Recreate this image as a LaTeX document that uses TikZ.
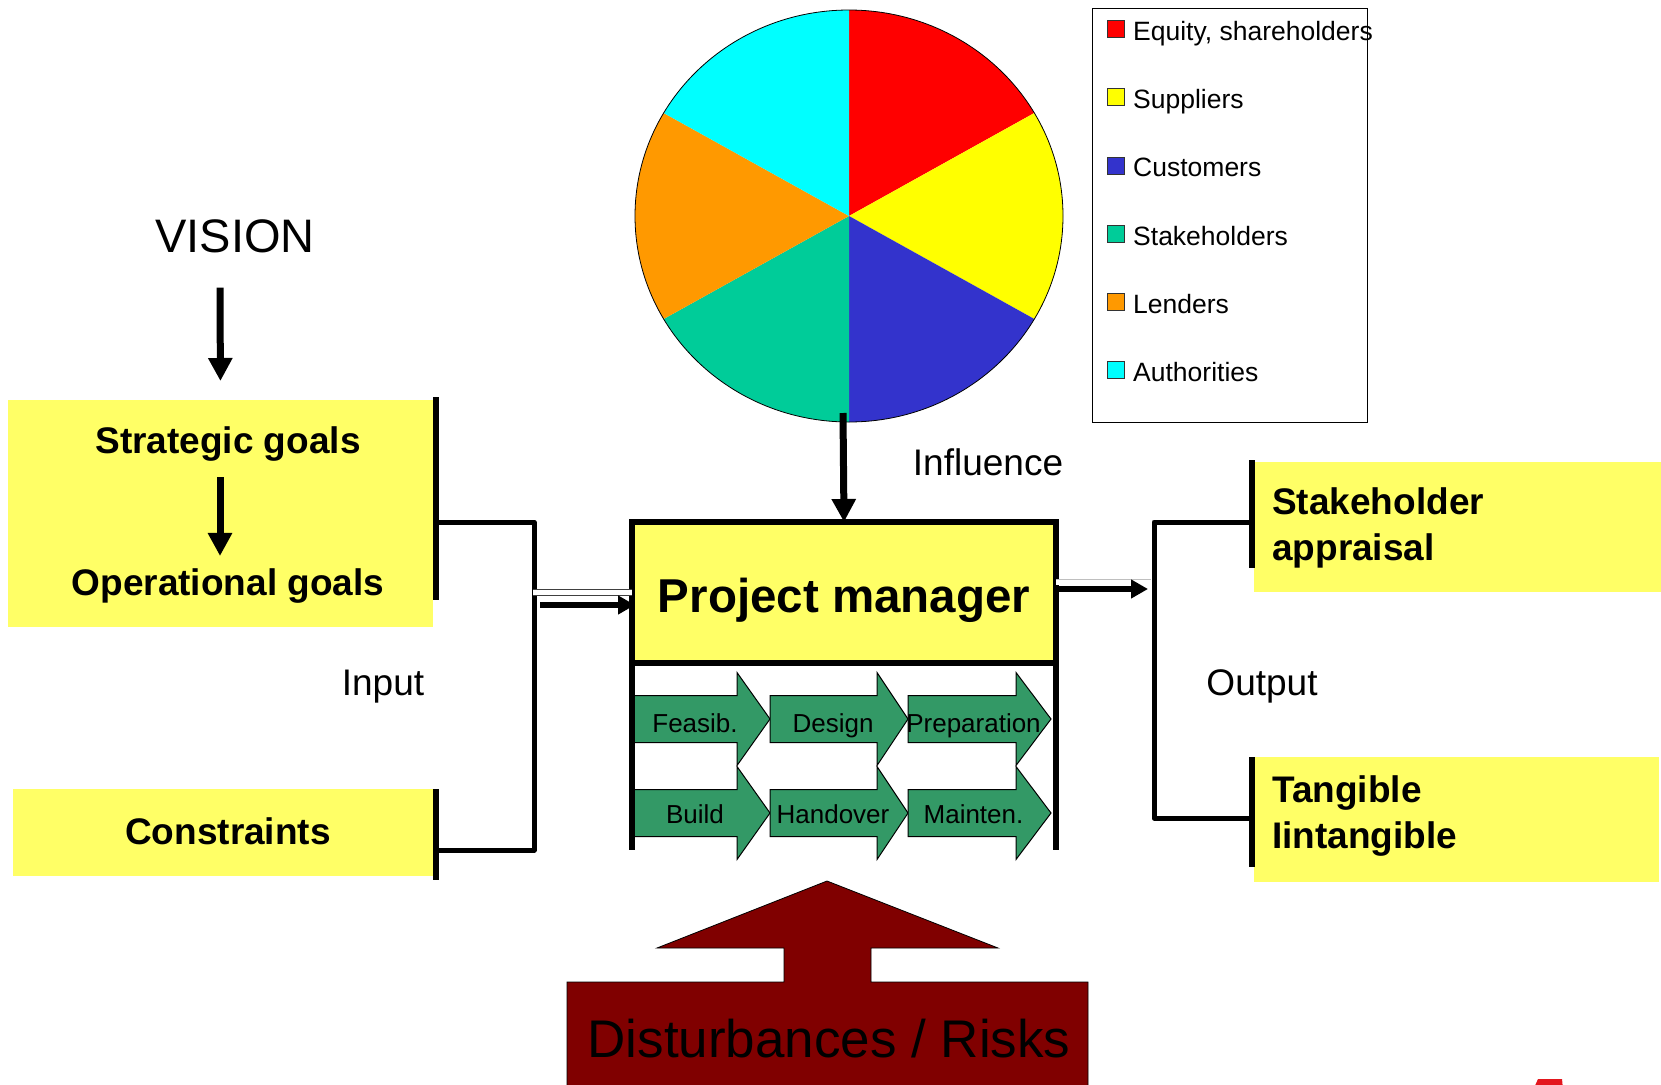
\documentclass[tikz,border=0pt]{standalone}
\usepackage{fontspec}
\setmainfont{Liberation Sans}
\usetikzlibrary{arrows.meta}
\definecolor{boxyellow}{RGB}{255,255,102}
\definecolor{phasegreen}{RGB}{51,153,102}
\definecolor{eqred}{RGB}{255,0,0}
\definecolor{supyellow}{RGB}{255,255,0}
\definecolor{custblue}{RGB}{51,51,204}
\definecolor{stakegreen}{RGB}{0,204,153}
\definecolor{lendorange}{RGB}{255,153,0}
\definecolor{authcyan}{RGB}{0,255,255}
\definecolor{riskred}{RGB}{128,0,0}
\definecolor{logored}{RGB}{227,23,30}
\begin{document}
\begin{tikzpicture}[x=1pt, y=-1pt,
yellow box/.style={rectangle,fill=boxyellow,inner sep=0pt,outer sep=0pt},
bold label/.style={font=\fontsize{37}{46}\selectfont\bfseries,inner sep=0pt},
plain label/.style={font=\fontsize{37}{44}\selectfont,anchor=base,inner sep=0pt},
legend label/.style={font=\fontsize{26.5}{31}\selectfont,anchor=base west,inner sep=0pt},
phase label/.style={font=\fontsize{26}{31}\selectfont,anchor=base,inner sep=0pt},
bar/.style={line width=6pt},
thick link/.style={line width=5pt,line join=round},
block arrow/.style={line width=7pt,-{Triangle[width=23pt,length=23pt]}},
small arrow/.style={line width=6pt,-{Triangle[width=18pt,length=17pt]}},
ghost/.style={line width=0.6pt,double=white,double distance=5pt}]
\useasboundingbox (0,0) rectangle (1661,1084);
\clip (0,0) rectangle (1661,1084);
% pie of parties
\coordinate (pie) at (849,216);
\foreach \a/\c in {30/eqred,-30/supyellow,-90/custblue,-150/stakegreen,150/lendorange,90/authcyan}
  \fill[\c] (pie) -- ++(\a:214pt and 206pt) arc[start angle=\a,end angle=\a+60,x radius=214pt,y radius=206pt] -- cycle;
\draw[line width=0.8pt] (pie) ellipse[x radius=214pt,y radius=206pt];
% legend
\node[draw,line width=1pt,inner sep=0pt,minimum width=275,minimum height=414] (legend) at (1229.5,215) {};
\foreach \c/\lab [count=\i] in {eqred/{Equity, shareholders},supyellow/Suppliers,custblue/Customers,stakegreen/Stakeholders,lendorange/Lenders,authcyan/Authorities}{
  \node[draw=black!80,fill=\c,line width=0.8pt,inner sep=0pt,minimum size=17] (sq\i) at (1115.5,{29+68.2*(\i-1)}) {};
  \node[legend label] (leg\i) at (1133,{40.5+68.2*(\i-1)}) {\lab};
}
% left side
\node[font=\fontsize{47}{56}\selectfont,anchor=base,inner sep=0pt] (vision) at (235,252) {VISION};
\node[yellow box,minimum width=425,minimum height=227] (goals) at (220.5,513.5) {};
\node[bold label,anchor=base] (strat) at (228,453) {Strategic goals};
\node[bold label,anchor=base] (oper) at (228,595) {Operational goals};
\node[yellow box,minimum width=420,minimum height=87] (constr) at (223,832.5) {};
\node[bold label,anchor=base] (constrlab) at (228,844) {Constraints};
\draw[block arrow,shorten >=19pt] ([shift={(-15,35)}]vision.south) -- (goals.north);
\draw[block arrow] ([shift={(-8,16)}]strat.south) -- ([shift={(-8,-12)}]oper.north);
\draw[bar] (436,397) -- (436,600);
\draw[bar] (436,789) -- (436,880);
\coordinate (inTop) at (534,522);
\coordinate (inBot) at (534,850);
\draw[thick link] (436,522) -- (inTop) -- (inBot) -- (436,850);
\node[plain label] (input) at (383,695) {Input};
% project manager
\node[yellow box,draw,line width=6pt,font=\fontsize{47.5}{56}\selectfont\bfseries,minimum width=424,minimum height=141,text height=39pt,text depth=0pt] (pm) at (844,592.5) {Project manager};
\foreach \xs/\xh/\xt/\yc/\yb/\lab/\nm in {632/737/770/719/732/Feasib./feas,770/877/908/719/732/Design/design,908/1016/1051/719/732/Preparation/prep,632/737/770/813/823/Build/build,770/877/908/813/823/Handover/hand,908/1016/1051/813/823/Mainten./maint}{
  \draw[fill=phasegreen,line width=1pt] (\xs,\yc-23.5) -- (\xh,\yc-23.5) -- (\xh,\yc-46.5) -- (\xt,\yc) -- (\xh,\yc+46.5) -- (\xh,\yc+23.5) -- (\xs,\yc+23.5) -- cycle;
  \node[phase label] (\nm) at ({(\xs+\xt)/2-6},\yb) {\lab};
}
\draw[bar] (pm.south west) -- ++(0,187);
\draw[bar] (pm.south east) -- ++(0,187);
\coordinate (inMid) at (540,605);
\coordinate (inGhost) at (533,592.5);
\draw[ghost,draw=black!75] (inGhost) -- (inGhost -| pm.west);
\draw[small arrow,shorten >=-3pt] (inMid) -- (inMid -| pm.west);
\draw[block arrow] ([shift={(-6,197)}]pie) -- (pm.north);
\node[plain label] (influence) at (988,475) {Influence};
% right side
\coordinate (outTop) at (1154,522);
\coordinate (outBot) at (1154,818);
\coordinate (outMid) at (1148,589);
\coordinate (outGhost) at (1151,582);
\draw[ghost,draw=black!25] (pm.east |- outGhost) -- (outGhost);
\draw[small arrow] (pm.east |- outMid) -- (outMid);
\node[yellow box,minimum width=407,minimum height=130] (appr) at (1457.5,527) {};
\node[yellow box,minimum width=405,minimum height=125] (tang) at (1456.5,819.5) {};
\draw[thick link] (1252,522) -- (outTop) -- (outBot) -- (1252,818);
\draw[bar] (1252,460) -- (1252,568);
\draw[bar] (1252,757) -- (1252,867);
\node[bold label,align=left,anchor=base west] (apprlab) at (1272,560) {Stakeholder\\appraisal};
\node[bold label,align=left,anchor=base west] (tanglab) at (1272,848) {Tangible\\Iintangible};
\node[plain label] (output) at (1262,695) {Output};
% disturbances
\draw[fill=riskred,line width=0.8pt] (567,1095) -- (567,982) -- (784,982) -- (784,948) -- (657,948) -- (827,881) -- (998,948) -- (871,948) -- (871,982) -- (1088,982) -- (1088,1095) -- cycle;
\node[font=\fontsize{53}{63}\selectfont,anchor=base,inner sep=0pt] (risks) at (829,1057) {Disturbances / Risks};
\fill[logored] (1533,1090) -- (1538,1079) -- (1562,1079) -- (1563,1090) -- cycle;
\end{tikzpicture}
\end{document}
